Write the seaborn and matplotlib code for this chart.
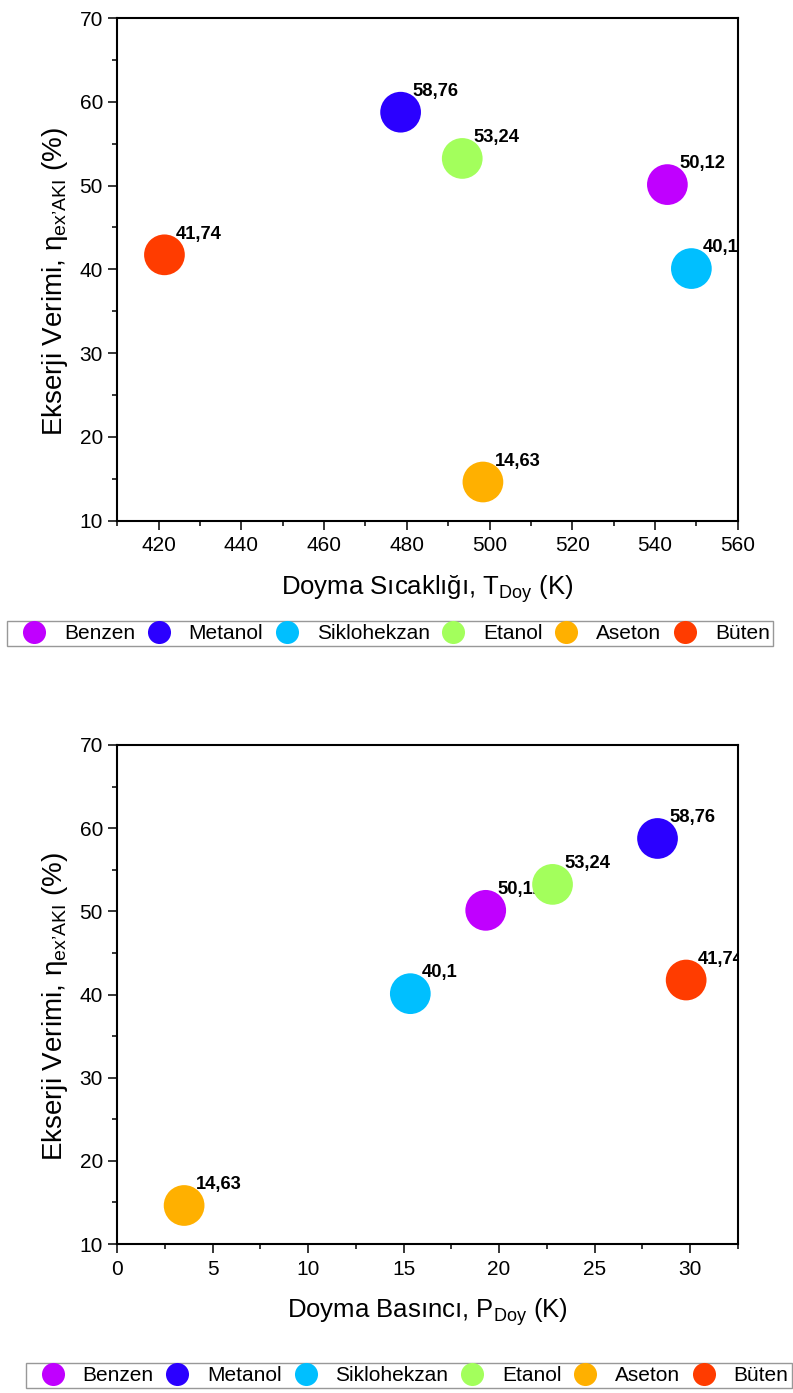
import numpy as np
import pandas as pd
import matplotlib
matplotlib.use('Agg')
import matplotlib.pyplot as plt
import matplotlib.transforms as mtransforms
from matplotlib.lines import Line2D
from matplotlib.ticker import MultipleLocator
import seaborn as sns

# Data
fluids = ['Benzen', 'Metanol', 'Siklohekzan', 'Etanol', 'Aseton', 'Büten']
fluid_colors = ['#C000FF', '#2B00FF', '#00BFFF', '#A3FF5C', '#FFB000', '#FF3C00']
t_doy = [543.0, 478.5, 548.8, 493.4, 498.4, 421.4]   # K
p_doy = [19.3, 28.3, 15.35, 22.8, 3.5, 29.8]
eta_ex = [50.12, 58.76, 40.1, 53.24, 14.63, 41.74]   # %

df = pd.DataFrame({'fluid': fluids, 'T': t_doy, 'P': p_doy, 'eta': eta_ex})
palette = dict(zip(fluids, fluid_colors))

sns.set_style('white')
plt.rcParams['font.family'] = ['Liberation Sans', 'DejaVu Sans']
plt.rcParams['mathtext.fontset'] = 'custom'
plt.rcParams['mathtext.rm'] = 'Liberation Sans'
plt.rcParams['mathtext.it'] = 'Liberation Sans:italic'
plt.rcParams['mathtext.bf'] = 'Liberation Sans:bold'
for k in ['text.color', 'axes.labelcolor', 'xtick.color', 'ytick.color']:
    plt.rcParams[k] = 'black'

W, H = 793, 1393
fig = plt.figure(figsize=(W / 100, H / 100), dpi=100)

left = 117.3 / W
width = (737.7 - 117.3) / W
ax1 = fig.add_axes([left, 1 - 520.8 / H, width, (520.8 - 18) / H])
ax2 = fig.add_axes([left, 1 - 1244 / H, width, (1244 - 745) / H])

ylabel = 'Ekserji Verimi, η$_{\\mathregular{ex’AKI}}$ (%)'


def draw_panel(ax, xcol, xlim, xmajor, xminor, xlabel):
    sns.scatterplot(data=df, x=xcol, y='eta', hue='fluid', palette=palette,
                    s=860, edgecolor='none', linewidth=0, legend=False,
                    ax=ax, zorder=2)
    offset = mtransforms.offset_copy(ax.transData, fig=fig, x=8.4, y=11.7, units='points')
    for _, row in df.iterrows():
        lbl = f"{row['eta']:g}".replace('.', ',')
        ax.text(row[xcol], row['eta'], lbl, transform=offset, fontsize=13.2,
                fontweight='bold', ha='left', va='baseline', clip_on=True, zorder=0.5)
    ax.set_xlim(*xlim)
    ax.set_ylim(10, 70)
    ax.xaxis.set_major_locator(MultipleLocator(xmajor))
    ax.xaxis.set_minor_locator(MultipleLocator(xminor))
    ax.yaxis.set_major_locator(MultipleLocator(10))
    ax.yaxis.set_minor_locator(MultipleLocator(5))
    ax.tick_params(which='both', direction='out', top=False, right=False,
                   bottom=True, left=True, width=1.1, color='black')
    ax.tick_params(which='major', length=6.3, labelsize=15)
    ax.tick_params(axis='x', which='major', pad=5)
    ax.tick_params(axis='y', which='major', pad=4)
    ax.tick_params(which='minor', length=3.6)
    for sp in ax.spines.values():
        sp.set_visible(True)
        sp.set_linewidth(1.5)
        sp.set_color('black')
    ax.set_xlabel(xlabel, fontsize=18.5, labelpad=13)
    ax.set_ylabel(ylabel, fontsize=20)
    ax.yaxis.set_label_coords(-0.077, 0.475)


draw_panel(ax1, 'T', (410, 560), 20, 10, 'Doyma Sıcaklığı, T$_{\\mathregular{Doy}}$ (K)')
ax1.set_xticks(np.arange(420, 561, 20))
draw_panel(ax2, 'P', (0, 32.5), 5, 2.5, 'Doyma Basıncı, P$_{\\mathregular{Doy}}$ (K)')

handles = [Line2D([], [], marker='o', linestyle='none', markersize=16.6,
                  markerfacecolor=c, markeredgecolor='none') for c in fluid_colors]

for x0, y0 in [(7.3, 620.7), (26.0, 1362.7)]:
    leg = fig.legend(handles, fluids, loc='upper left',
                     bbox_to_anchor=(x0 / W, 1 - y0 / H), ncol=6,
                     frameon=True, fancybox=False, fontsize=15.0,
                     borderpad=0.15, borderaxespad=0, handlelength=2.26,
                     handletextpad=0.31, columnspacing=0.0)
    leg.get_frame().set_edgecolor('#7f7f7f')
    leg.get_frame().set_linewidth(1.0)

fig.savefig('out.png', dpi=100)
